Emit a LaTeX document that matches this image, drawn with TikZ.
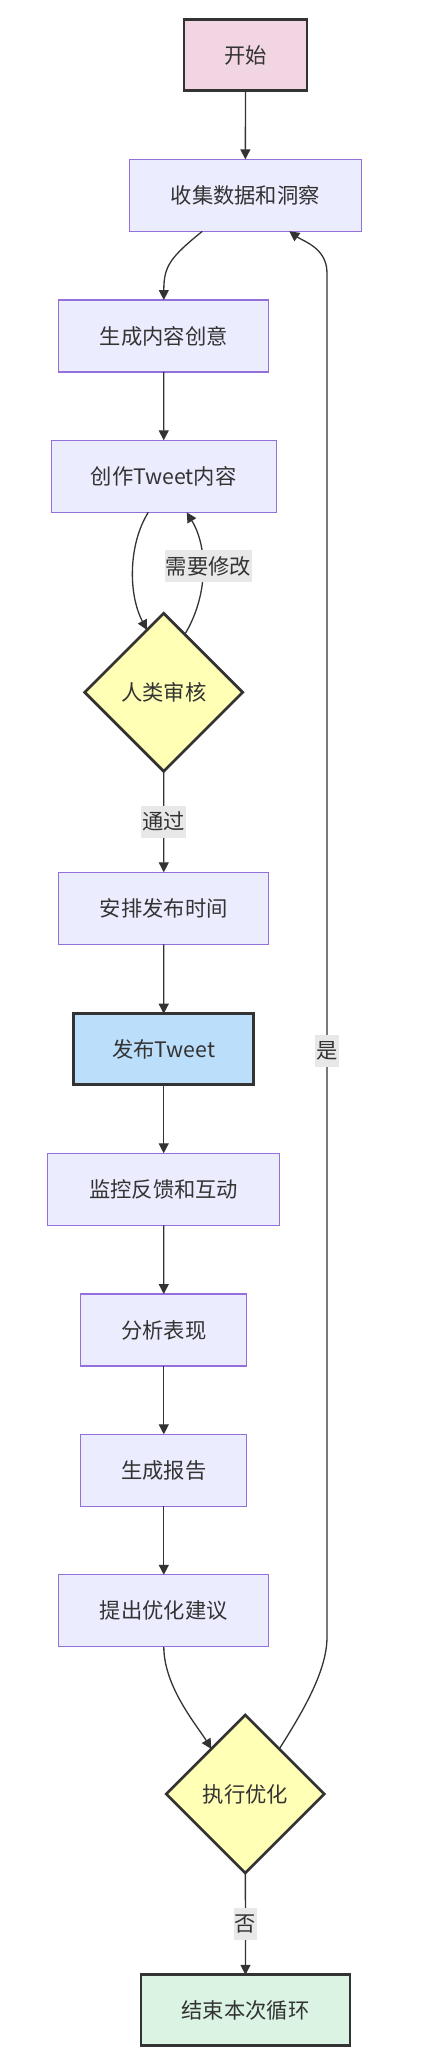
\documentclass[tikz,border=0pt]{standalone}
\usepackage{fontspec}
\setmainfont{Noto Sans CJK SC}
\usetikzlibrary{shapes.geometric,arrows.meta}
\definecolor{boxfill}{HTML}{ECECFF}
\definecolor{boxline}{HTML}{9370DB}
\definecolor{inkdark}{HTML}{333333}
\definecolor{startfill}{RGB}{242,213,227}
\definecolor{askfill}{RGB}{255,255,181}
\definecolor{postfill}{HTML}{BBDEFB}
\definecolor{endfill}{RGB}{218,243,227}
\definecolor{tagfill}{HTML}{E8E8E8}

\begin{document}
\begin{tikzpicture}[x=1pt,y=-1pt,font=\fontsize{21.3}{25}\selectfont,text=inkdark,
  proc/.style={draw=boxline,line width=1.3pt,fill=boxfill,minimum height=72pt,
               inner sep=0pt,outer sep=0pt},
  key/.style={draw=inkdark,line width=2.7pt,minimum height=71pt,inner sep=0pt,outer sep=0pt},
  ask/.style={diamond,draw=inkdark,line width=2.7pt,fill=askfill,minimum width=158pt,
              minimum height=158pt,inner sep=0pt,outer sep=0pt},
  flow/.style={draw=inkdark,line width=1.3pt,-{Triangle[length=10pt,width=10pt]}},
  tag/.style={fill=tagfill,inner xsep=1pt,inner ysep=0pt,minimum height=32pt}]
  \useasboundingbox (0,0) rectangle (446,2062);
  \node[key,fill=startfill,minimum width=123pt] (start) at (245.5,55) {开始};
  \node[proc,minimum width=232pt] (collect) at (245.3,195.3) {收集数据和洞察};
  \node[proc,minimum width=210pt] (idea) at (163.8,336) {生成内容创意};
  \node[proc,minimum width=225pt] (write) at (163.7,476.3) {创作Tweet内容};
  \node[ask] (review) at (163.7,692.3) {人类审核};
  \node[proc,minimum width=210pt] (plan) at (163.8,908.3) {安排发布时间};
  \node[key,fill=postfill,minimum width=180pt] (post) at (163.7,1049.2) {发布Tweet};
  \node[proc,minimum width=232pt] (watch) at (163.7,1189.3) {监控反馈和互动};
  \node[proc,minimum width=166pt] (analyze) at (163.8,1330) {分析表现};
  \node[proc,minimum width=166pt] (report) at (163.8,1470.3) {生成报告};
  \node[proc,minimum width=210pt] (advise) at (163.8,1610.8) {提出优化建议};
  \node[ask] (apply) at (245.3,1794) {执行优化};
  \node[key,fill=endfill,minimum width=209pt] (finish) at (245.5,2010.3) {结束本次循环};
  \coordinate (loopbot) at (327,1637);
  \coordinate (looptop) at (327,273);
  \draw[flow] (start) -- (collect);
  \draw[flow] ([xshift=-43pt]collect.south) .. controls +(-32,26) and +(0,-34) .. (idea.north);
  \draw[flow] (idea) -- (write);
  \draw[flow] ([xshift=-15.4pt]write.south) .. controls +(-20,32) and +(-19,-36) .. (review.105);
  \draw[flow] (review.70) .. controls +(23,-38) and +(22,36) .. node[tag,pos=0.55,xshift=6pt]{需要修改} ([xshift=23pt]write.south);
  \draw[flow] (review) -- node[tag]{通过} (plan);
  \draw[flow] (plan) -- (post);
  \draw[flow] (post) -- (watch);
  \draw[flow] (watch) -- (analyze);
  \draw[flow] (analyze) -- (report);
  \draw[flow] (report) -- (advise);
  \draw[flow] (advise.south) .. controls +(0,40) and +(-14,-23) .. (apply.127);
  \draw[flow] (apply.53) .. controls +(22,-35) and +(0,35) .. (loopbot)
    -- node[tag,pos=0.43]{是} (looptop)
    .. controls +(0,-25) and +(14,10) .. ([xshift=44pt]collect.south);
  \draw[flow] (apply) -- node[tag]{否} (finish);
\end{tikzpicture}
\end{document}
